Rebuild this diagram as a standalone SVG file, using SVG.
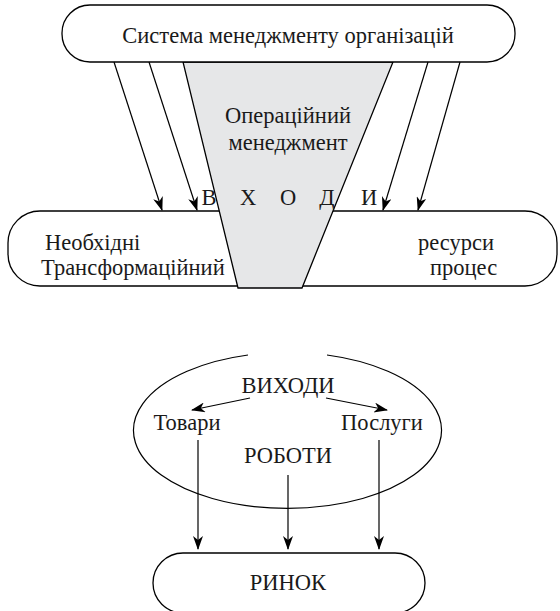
<svg xmlns="http://www.w3.org/2000/svg" width="560" height="611" viewBox="0 0 560 611">
<style>
.b{fill:#fff;stroke:#000;stroke-width:1.3}
.l{fill:none;stroke:#000;stroke-width:1.2}
text{font-family:"Liberation Serif","Times New Roman",serif;font-size:22.5px;fill:#1a1a1a}
.c{text-anchor:middle}
</style>
<defs>
<marker id="a" viewBox="0 0 14 10" refX="13" refY="5" markerWidth="14" markerHeight="10" markerUnits="userSpaceOnUse" orient="auto">
<path d="M0,0 L14,5 L0,10 L4,5 Z" fill="#000"/>
</marker>
</defs>
<g id="mid-box"><rect class="b" x="8" y="211" width="549" height="75" rx="32"/>
<text x="45" y="250">Необхідні</text>
<text x="41" y="275">Трансформаційний</text>
<text x="418" y="250">ресурси</text>
<text x="430" y="275">процес</text></g>
<g id="funnel"><polygon points="183,62 393,62 302,288 238,288" fill="#e6e7e8" stroke="#000" stroke-width="1.3"/>
<text class="c" x="288" y="123">Операційний</text>
<text class="c" x="288" y="150">менеджмент</text></g>
<g id="top-box"><rect class="b" x="62" y="5" width="453" height="57" rx="28"/>
<text class="c" x="288" y="43">Система менеджменту організацій</text></g>
<g id="inputs-label">
<text class="c" x="209" y="205">В</text>
<text class="c" x="248" y="205">Х</text>
<text class="c" x="288" y="205">О</text>
<text class="c" x="327" y="205">Д</text>
<text class="c" x="369" y="205">И</text></g>
<g id="outputs"><path class="l" d="M248,355 A154,78 0 1,0 327,355"/>
<text class="c" x="288" y="393">ВИХОДИ</text>
<text class="c" x="187" y="430">Товари</text>
<text class="c" x="382" y="430">Послуги</text>
<text class="c" x="288" y="463">РОБОТИ</text></g>
<g id="market"><rect class="b" x="153" y="553" width="272" height="60" rx="30"/>
<text class="c" x="288" y="590">РИНОК</text></g>
<g id="connectors" class="l" marker-end="url(#a)">
<line x1="114" y1="62" x2="162" y2="210"/>
<line x1="149" y1="62" x2="197" y2="210"/>
<line x1="428" y1="62" x2="383" y2="210"/>
<line x1="460" y1="62" x2="418" y2="210"/>
<line x1="250" y1="398" x2="192" y2="410"/>
<line x1="326" y1="398" x2="387" y2="410"/>
<line x1="198" y1="440" x2="198" y2="549"/>
<line x1="288" y1="475" x2="288" y2="549"/>
<line x1="379" y1="440" x2="379" y2="549"/>
</g>
</svg>
